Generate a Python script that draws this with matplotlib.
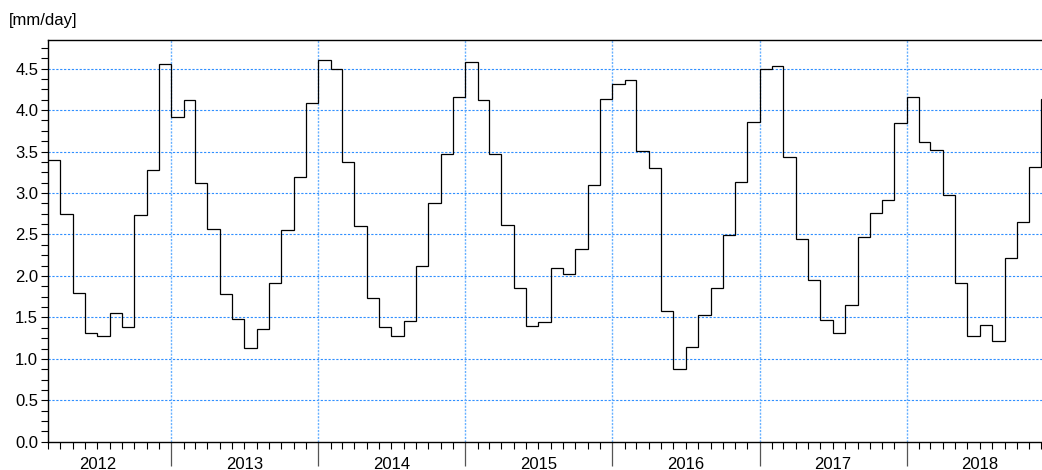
import numpy as np
import pandas as pd
import matplotlib
matplotlib.use("Agg")
import matplotlib.pyplot as plt
import matplotlib.dates as mdates
from matplotlib.ticker import MultipleLocator, FormatStrFormatter

plt.rcParams['font.family'] = ['Liberation Sans', 'DejaVu Sans']

# monthly values [mm/day], Mar 2012 .. Dec 2018
et_2012 = [3.40, 2.75, 1.80, 1.31, 1.28, 1.55, 1.38, 2.73, 3.28, 4.55]
et_2013 = [3.92, 4.12, 3.12, 2.56, 1.78, 1.48, 1.13, 1.36, 1.92, 2.55, 3.19, 4.08]
et_2014 = [4.60, 4.50, 3.37, 2.60, 1.74, 1.38, 1.28, 1.46, 2.12, 2.88, 3.47, 4.16]
et_2015 = [4.58, 4.12, 3.47, 2.61, 1.86, 1.40, 1.44, 2.10, 2.02, 2.32, 3.10, 4.13]
et_2016 = [4.31, 4.36, 3.51, 3.30, 1.58, 0.88, 1.14, 1.53, 1.85, 2.49, 3.13, 3.86]
et_2017 = [4.50, 4.53, 3.44, 2.44, 1.95, 1.47, 1.31, 1.65, 2.47, 2.76, 2.91, 3.84]
et_2018 = [4.16, 3.62, 3.52, 2.98, 1.92, 1.28, 1.41, 1.21, 2.22, 2.65, 3.31, 4.13]
years = [2012, 2013, 2014, 2015, 2016, 2017, 2018]
y_label = "[mm/day]"

values = np.array(et_2012 + et_2013 + et_2014 + et_2015 + et_2016 + et_2017 + et_2018)
edges = pd.date_range("2012-03-01", periods=len(values) + 1, freq="MS")
edges_num = mdates.date2num(edges.to_pydatetime())

fig = plt.figure(figsize=(10.42, 4.70), dpi=100)
ax = fig.add_axes([0.046, 0.060, 0.954, 0.854])

ax.stairs(values, edges_num, baseline=None, color="black", lw=0.9, zorder=3)

x0 = mdates.date2num(pd.Timestamp("2012-03-01"))
x1 = mdates.date2num(pd.Timestamp("2018-12-03"))
ax.set_xlim(x0, x1)
ax.set_ylim(0, 4.84)

# y axis
ax.yaxis.set_major_locator(MultipleLocator(0.5))
ax.yaxis.set_minor_locator(MultipleLocator(0.125))
ax.yaxis.set_major_formatter(FormatStrFormatter("%.1f"))
ax.tick_params(axis="y", which="both", direction="out", length=5, width=0.8,
               labelsize=12, pad=2)

# x axis: year boundaries long ticks, monthly short ticks, labels at mid year
bounds = [mdates.date2num(pd.Timestamp(f"{y}-01-01")) for y in years[1:]]
months = mdates.date2num(pd.date_range("2012-03-01", "2018-12-01", freq="MS").to_pydatetime())
ax.set_xticks(bounds)
ax.set_xticklabels([])
ax.set_xticks(months, minor=True)
ax.tick_params(axis="x", which="major", direction="out", length=17, width=0.9, color="#555555")
ax.tick_params(axis="x", which="minor", direction="out", length=5, width=0.8)
for y in years:
    xm = mdates.date2num(pd.Timestamp(f"{y}-07-02"))
    ax.text(xm, 1 - 469 / 470, str(y), transform=ax.get_xaxis_transform().__class__(ax.transData, fig.transFigure),
            ha="center", va="baseline", fontsize=12)

# grid
for yv in np.arange(0.5, 4.84, 0.5):
    ax.axhline(yv, color="#2f8fff", lw=0.8, ls=(0, (2.0, 1.5)), zorder=1)
for b in bounds:
    ax.axvline(b, color="#66b0ff", lw=1.0, ls=(0, (1.5, 1.0)), zorder=1)

ax.spines["right"].set_visible(False)
for s in ["left", "top", "bottom"]:
    ax.spines[s].set_linewidth(1.0)

fig.text(9 / 1042, 1 - 20 / 470, y_label, ha="left", va="center", fontsize=12)

fig.savefig("out.png", dpi=100)
